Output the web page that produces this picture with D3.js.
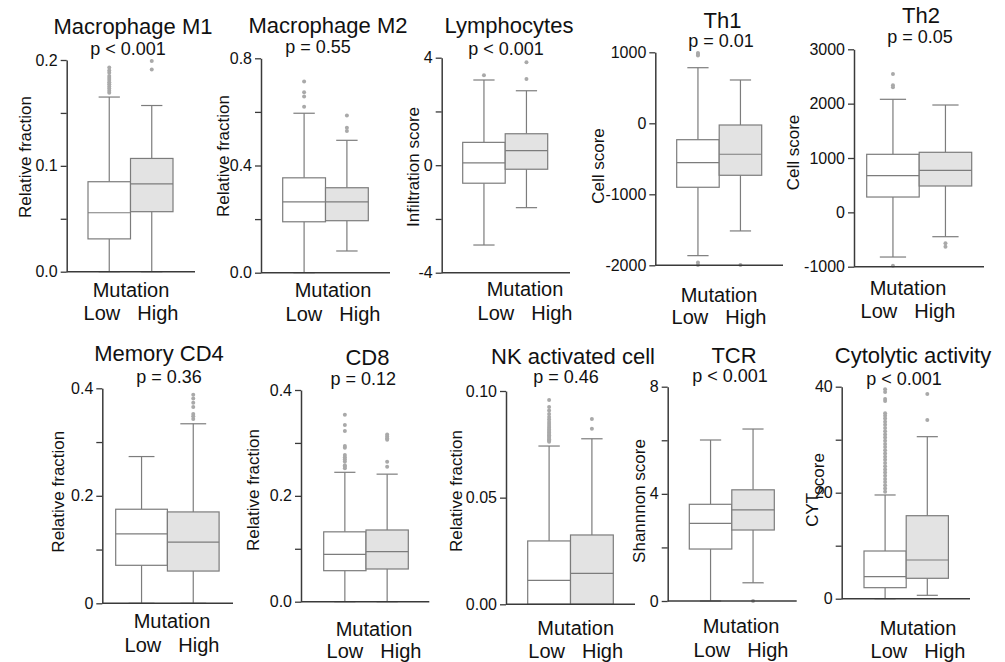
<!DOCTYPE html>
<html>
<head>
<meta charset="utf-8">
<script src="https://cdn.jsdelivr.net/npm/d3@7"></script>
<style>
  body { margin: 0; background: #fff; }
  svg { display: block; }
  text { font-family: "Liberation Sans", Arial, sans-serif; fill: #111; }
</style>
</head>
<body>
<svg id="chart" width="1005" height="662"></svg>
<script>
// ---- data ----
const groups = ["Low", "High"];

const titles = ["Macrophage M1", "Macrophage M2", "Lymphocytes", "Th1", "Th2",
                "Memory CD4", "CD8", "NK activated cell", "TCR", "Cytolytic activity"];

const pLabels = ["p < 0.001", "p = 0.55", "p < 0.001", "p = 0.01", "p = 0.05",
                 "p = 0.36", "p = 0.12", "p = 0.46", "p < 0.001", "p < 0.001"];

const yLabels = ["Relative fraction", "Relative fraction", "Infiltration score", "Cell score", "Cell score",
                 "Relative fraction", "Relative fraction", "Relative fraction", "Shannnon score", "CYT|score"];

const yDomains = [[0, 0.2], [0, 0.8], [-4, 4], [-2000, 1000], [-1000, 3000],
                  [0, 0.4], [0, 0.4], [0, 0.1], [0, 8], [0, 40]];

const yTickValues = [
  [0, 0.05, 0.1, 0.15, 0.2],
  [0, 0.2, 0.4, 0.6, 0.8],
  [-4, -2, 0, 2, 4],
  [-2000, -1000, 0, 1000],
  [-1000, 0, 1000, 2000, 3000],
  [0, 0.1, 0.2, 0.3, 0.4],
  [0, 0.1, 0.2, 0.3, 0.4],
  [0, 0.05, 0.1],
  [0, 2, 4, 6, 8],
  [0, 10, 20, 30, 40]
];

const yTickLabels = [
  ["0.0", "", "0.1", "", "0.2"],
  ["0.0", "", "0.4", "", "0.8"],
  ["-4", "", "0", "", "4"],
  ["-2000", "-1000", "0", "1000"],
  ["-1000", "0", "1000", "2000", "3000"],
  ["0", "", "0.2", "", "0.4"],
  ["0.0", "", "0.2", "", "0.4"],
  ["0.00", "0.05", "0.10"],
  ["0", "", "4", "", "8"],
  ["0", "", "20", "", "40"]
];

// [lower whisker, Q1, median, Q3, upper whisker]
const lowStats = [
  [0, 0.031, 0.0557, 0.085, 0.165],
  [0, 0.190, 0.264, 0.354, 0.595],
  [-2.97, -0.67, 0.09, 0.85, 3.17],
  [-1864, -901, -554, -231, 783],
  [-822, 282, 674, 1068, 2080],
  [0, 0.0707, 0.129, 0.175, 0.273],
  [0, 0.0586, 0.0895, 0.132, 0.2445],
  [0, 0, 0.0112, 0.0297, 0.0742],
  [0, 1.94, 2.90, 3.61, 6.01],
  [0, 2.08, 4.15, 9.0, 19.57]
];

const highStats = [
  [0, 0.0567, 0.083, 0.107, 0.157],
  [0.081, 0.194, 0.264, 0.317, 0.494],
  [-1.58, -0.15, 0.54, 1.17, 2.77],
  [-1516, -732, -436, -24, 610],
  [-448, 485, 774, 1105, 1975],
  [0, 0.060, 0.114, 0.170, 0.334],
  [0, 0.0618, 0.0945, 0.1355, 0.241],
  [0, 0, 0.0145, 0.0325, 0.0776],
  [0.68, 2.65, 3.40, 4.15, 6.42],
  [0.64, 3.85, 7.3, 15.66, 30.57]
];

const lowOutliers = [
  [0.169, 0.171, 0.173, 0.175, 0.177, 0.179, 0.181, 0.183, 0.185, 0.188, 0.190, 0.193],
  [0.619, 0.657, 0.673, 0.713],
  [3.35],
  [-1995, -1962, 955, 975, 990],
  [-982, 2300, 2340, 2546],
  [],
  [0.252, 0.255, 0.258, 0.265, 0.269, 0.273, 0.277, 0.291, 0.294, 0.3225, 0.334, 0.353],
  [0.0762, 0.0768, 0.0774, 0.078, 0.0786, 0.0792, 0.0798, 0.0805, 0.0812, 0.082, 0.0828,
   0.0836, 0.0845, 0.0855, 0.0866, 0.0878, 0.0892, 0.0908, 0.0925, 0.0958],
  [],
  [20.2, 20.8, 21.4, 22.0, 22.6, 23.2, 23.8, 24.4, 25.0, 25.6, 26.2, 26.8, 27.4, 28.0, 28.6,
   29.2, 29.8, 30.4, 31.0, 31.6, 32.2, 32.8, 33.4, 34.0, 34.5, 35.0, 37.3, 37.7, 39.0, 39.5]
];

const highOutliers = [
  [0.191, 0.199],
  [0.529, 0.541, 0.587],
  [3.21, 3.83],
  [-1995],
  [-632, -570],
  [0.343, 0.348, 0.352, 0.365, 0.373, 0.381, 0.388],
  [0.255, 0.2646, 0.306, 0.309, 0.312, 0.316],
  [0.0823, 0.0869],
  [0.0],
  [33.7, 38.6]
];

// ---- panel layout (pixels) ----
const layout = [
  { ax: 66.7,  axEnd: 195,   top: 60,    bottom: 271.7, boxLeft: 88,    bw: 42.5, tx: 133,   ty: 34,    px: 128,   py: 55,    lx: 25,    ly: 157,   mx: 131,   my: 297, ly2: 320 },
  { ax: 261,   axEnd: 390,   top: 58.3,  bottom: 272.7, boxLeft: 282.7, bw: 42.8, tx: 328,   ty: 33,    px: 318,   py: 53,    lx: 223,   ly: 156,   mx: 333,   my: 297, ly2: 321 },
  { ax: 441.7, axEnd: 570,   top: 57.7,  bottom: 272.7, boxLeft: 462.7, bw: 42.5, tx: 509,   ty: 33,    px: 506,   py: 55,    lx: 412.5, ly: 167,   mx: 525,   my: 296, ly2: 320 },
  { ax: 655.3, axEnd: 783,   top: 52.3,  bottom: 265.3, boxLeft: 676.7, bw: 42.5, tx: 722.5, ty: 28,    px: 721,   py: 47,    lx: 597.5, ly: 166,   mx: 719,   my: 302, ly2: 324 },
  { ax: 854,   axEnd: 984,   top: 49.3,  bottom: 266.7, boxLeft: 866.7, bw: 52.5, tx: 921,   ty: 23,    px: 920,   py: 43,    lx: 792.5, ly: 152.5, mx: 908,   my: 295, ly2: 318 },
  { ax: 102.3, axEnd: 233,   top: 388.3, bottom: 603.3, boxLeft: 115.7, bw: 51.7, tx: 159,   ty: 361,   px: 169,   py: 382.5, lx: 57.5,  ly: 491.7, mx: 172,   my: 628, ly2: 651.5 },
  { ax: 301,   axEnd: 429.3, top: 390,   bottom: 601.7, boxLeft: 323.7, bw: 42.3, tx: 367.5, ty: 365,   px: 363.3, py: 385,   lx: 252.5, ly: 490,   mx: 374,   my: 636, ly2: 658 },
  { ax: 506,   axEnd: 635,   top: 391,   bottom: 604.3, boxLeft: 527.7, bw: 42.8, tx: 573,   ty: 364,   px: 566,   py: 383.3, lx: 455.8, ly: 491,   mx: 575.7, my: 635, ly2: 658 },
  { ax: 667.7, axEnd: 796.7, top: 386.7, bottom: 601,   boxLeft: 689.3, bw: 42.5, tx: 734,   ty: 362.5, px: 730,   py: 381.7, lx: 639,   ly: 501,   mx: 741,   my: 633, ly2: 657 },
  { ax: 841.7, axEnd: 970,   top: 386.7, bottom: 598.7, boxLeft: 864,   bw: 42.2, tx: 913,   ty: 362.5, px: 904,   py: 385,   lx: 812,   ly: 490,   mx: 918,   my: 635, ly2: 658 }
];

// ---- styles ----
const axisColor = "#3a3a3a";
const boxStroke = "#7c7c7c";
const fills = { Low: "#ffffff", High: "#e3e3e3" };
const outlierColor = "#a9a9a9";

const svg = d3.select("#chart");

titles.forEach((title, i) => {
  const L = layout[i];
  const g = svg.append("g");

  const y = d3.scaleLinear().domain(yDomains[i]).range([L.bottom, L.top]);
  const x = d3.scaleBand().domain(groups).range([L.boxLeft, L.boxLeft + 2 * L.bw]).padding(0);

  const stats = { Low: lowStats[i], High: highStats[i] };
  const outs = { Low: lowOutliers[i], High: highOutliers[i] };

  // boxes, whiskers, outliers
  groups.forEach(grp => {
    const s = stats[grp];
    const cx = x(grp) + x.bandwidth() / 2;
    const capHalf = x.bandwidth() / 4;
    const bg = g.append("g");

    bg.append("line").attr("x1", cx).attr("x2", cx).attr("y1", y(s[0])).attr("y2", y(s[1]))
      .attr("stroke", boxStroke).attr("stroke-width", 1.2);
    bg.append("line").attr("x1", cx).attr("x2", cx).attr("y1", y(s[3])).attr("y2", y(s[4]))
      .attr("stroke", boxStroke).attr("stroke-width", 1.2);
    [s[0], s[4]].forEach(v => {
      bg.append("line").attr("x1", cx - capHalf).attr("x2", cx + capHalf)
        .attr("y1", y(v)).attr("y2", y(v))
        .attr("stroke", boxStroke).attr("stroke-width", 1.2);
    });

    bg.append("rect")
      .attr("x", x(grp)).attr("y", y(s[3]))
      .attr("width", x.bandwidth()).attr("height", y(s[1]) - y(s[3]))
      .attr("fill", fills[grp]).attr("stroke", boxStroke).attr("stroke-width", 1.2);
    bg.append("line").attr("x1", x(grp)).attr("x2", x(grp) + x.bandwidth())
      .attr("y1", y(s[2])).attr("y2", y(s[2]))
      .attr("stroke", boxStroke).attr("stroke-width", 1.2);

    bg.selectAll("circle").data(outs[grp]).join("circle")
      .attr("cx", cx).attr("cy", d => y(d)).attr("r", 2)
      .attr("fill", outlierColor);
  });

  // y axis
  const labels = yTickLabels[i];
  const yAxis = d3.axisLeft(y)
    .tickValues(yTickValues[i])
    .tickFormat((d, j) => labels[j])
    .tickSize(6).tickSizeOuter(0).tickPadding(3);
  const ya = g.append("g").attr("transform", `translate(${L.ax},0)`).call(yAxis);
  ya.select(".domain").attr("stroke", axisColor).attr("stroke-width", 1.5);
  ya.selectAll(".tick line").attr("stroke", axisColor).attr("stroke-width", 1.3);
  ya.selectAll(".tick text").attr("font-size", 16).attr("fill", "#111")
    .style("font-family", '"Liberation Sans", Arial, sans-serif');

  // x axis baseline
  g.append("line").attr("x1", L.ax).attr("x2", L.axEnd)
    .attr("y1", L.bottom).attr("y2", L.bottom)
    .attr("stroke", axisColor).attr("stroke-width", 1.5);

  // title and p value
  g.append("text").attr("x", L.tx).attr("y", L.ty).attr("text-anchor", "middle")
    .attr("font-size", 22).text(title);
  g.append("text").attr("x", L.px).attr("y", L.py).attr("text-anchor", "middle")
    .attr("font-size", 18).text(pLabels[i]);

  // y label
  const yl = g.append("text")
    .attr("transform", `translate(${L.lx},${L.ly}) rotate(-90)`)
    .attr("text-anchor", "middle").attr("dominant-baseline", "central")
    .attr("font-size", 17);
  const parts = yLabels[i].split("|");
  yl.append("tspan").text(parts[0]);
  if (parts.length > 1) {
    yl.append("tspan").attr("dy", 6).text(parts[1]);
  }

  // x labels
  g.append("text").attr("x", L.mx).attr("y", L.my).attr("text-anchor", "middle")
    .attr("font-size", 20).text("Mutation");
  const lh = g.append("text").attr("x", L.mx).attr("y", L.ly2).attr("text-anchor", "middle")
    .attr("font-size", 20);
  lh.append("tspan").text(groups[0]);
  lh.append("tspan").attr("dx", 17).text(groups[1]);
});
</script>
</body>
</html>
